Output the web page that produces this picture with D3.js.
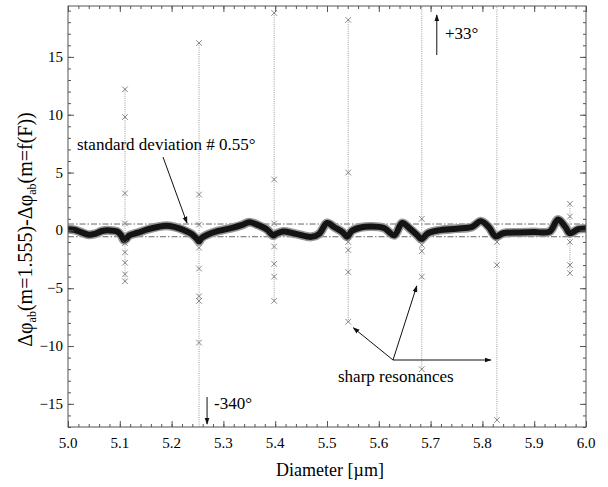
<!DOCTYPE html>
<html>
<head>
<meta charset="utf-8">
<script src="https://cdn.jsdelivr.net/npm/d3@7"></script>
<style>
  html, body { margin: 0; padding: 0; background: #fff; }
</style>
</head>
<body>
<svg id="chart" width="608" height="487"></svg>
<script>
// Phase difference between fixed-index and dispersive-index calculations vs. diameter

// Smooth background trace (diameter in µm, degrees)
const traceD = [5.000, 5.012, 5.025, 5.040, 5.052, 5.066, 5.080, 5.095, 5.103, 5.108,
                5.112, 5.118, 5.135, 5.155, 5.175, 5.190, 5.205, 5.222, 5.238, 5.248,
                5.253, 5.258, 5.270, 5.290, 5.315, 5.335, 5.350, 5.365, 5.385, 5.396,
                5.402, 5.415, 5.440, 5.470, 5.485, 5.500, 5.515, 5.530, 5.539, 5.548,
                5.565, 5.585, 5.610, 5.630, 5.645, 5.660, 5.675, 5.682, 5.695, 5.715,
                5.750, 5.780, 5.797, 5.812, 5.826, 5.840, 5.870, 5.900, 5.930, 5.946,
                5.960, 5.969, 5.985, 6.000];
const traceV = [0.10, 0.05, -0.15, -0.38, -0.30, -0.05, 0.00, -0.10, -0.45, -0.85,
                -0.75, -0.45, -0.20, 0.10, 0.32, 0.40, 0.30, 0.05, -0.30, -0.70,
                -0.95, -0.65, -0.35, -0.05, 0.20, 0.45, 0.70, 0.50, 0.05, -0.45,
                -0.30, -0.10, -0.30, -0.56, -0.30, 0.64, 0.25, -0.15, -0.55, -0.05,
                0.25, 0.33, 0.20, -0.42, 0.64, 0.15, -0.45, -0.75, -0.25, 0.00,
                0.15, 0.30, 0.80, 0.30, -0.53, -0.25, -0.18, -0.15, -0.10, 0.95,
                0.30, -0.25, 0.10, 0.16];

// Resonance positions, extent of each spike, and the scattered points on it
const resD = [5.110, 5.253, 5.398, 5.541, 5.683, 5.828, 5.969];
const resTop = [12.2, 16.2, 18.8, 18.2, 33, 25, 2.3];
const resBottom = [-4.5, -340, -6.1, -7.9, -12.0, -16.4, -3.7];
const resPoints = [
  [12.2, 9.8, 3.2, 0.6, -1.1, -1.9, -2.8, -3.8, -4.4],
  [16.2, 3.1, 0.5, -1.5, -3.3, -5.7, -6.1, -9.7],
  [18.8, 4.4, 0.6, -1.4, -2.9, -4.0, -6.1],
  [18.2, 5.0, -1.0, -1.7, -3.6, -7.9],
  [1.0, -1.25, -1.8, -4.0, -12.0],
  [-1.0, -3.0, -16.4],
  [2.3, 1.2, -1.0, -3.0, -3.7]
];

const stdDev = 0.55;
const xTicks = [5.0, 5.1, 5.2, 5.3, 5.4, 5.5, 5.6, 5.7, 5.8, 5.9, 6.0];
const yTicks = [-15, -10, -5, 0, 5, 10, 15];

const W = 608, H = 487;
const margin = { left: 68, right: 22, top: 6, bottom: 60 };
const svg = d3.select("#chart");
const FONT = "'Liberation Serif'";

const x = d3.scaleLinear().domain([5.0, 6.0]).range([margin.left, W - margin.right]);
const y = d3.scaleLinear().domain([-17, 19.4]).range([H - margin.bottom, margin.top]);
const bottomY = y.range()[0], topY = y.range()[1];
const leftX = x.range()[0], rightX = x.range()[1];

// All labels first, each with its own serif face
function label(xp, yp, size, str) {
  return svg.append("text")
    .attr("x", xp).attr("y", yp)
    .attr("font-size", size)
    .style("font-family", FONT)
    .text(str);
}

// tick labels
svg.selectAll("text.xt").data(xTicks).join("text")
  .attr("class", "xt")
  .attr("x", d => x(d)).attr("y", bottomY + 21)
  .attr("font-size", "15px").attr("text-anchor", "middle")
  .style("font-family", FONT)
  .text(d3.format(".1f"));
svg.selectAll("text.yt").data(yTicks).join("text")
  .attr("class", "yt")
  .attr("x", leftX - 5).attr("y", d => y(d) + 5)
  .attr("font-size", "15px").attr("text-anchor", "end")
  .style("font-family", FONT)
  .text(d3.format("d"));

// Axis titles
label((leftX + rightX) / 2 + 3, 476, "18px", "Diameter [µm]").attr("text-anchor", "middle");

const yl = svg.append("text")
  .attr("transform", `translate(32,${(topY + bottomY) / 2 + 13}) rotate(-90)`)
  .attr("text-anchor", "middle").attr("font-size", "20px")
  .style("font-family", FONT);
yl.append("tspan").text("Δφ");
yl.append("tspan").attr("font-size", "12px").attr("dy", 4).text("ab");
yl.append("tspan").attr("dy", -4).text("(m=1.555)-Δφ");
yl.append("tspan").attr("font-size", "12px").attr("dy", 4).text("ab");
yl.append("tspan").attr("dy", -4).text("(m=f(F))");

// Annotation texts
label(77, 150, "17px", "standard deviation # " + stdDev.toFixed(2) + "°");
label(445, 39, "17px", "+33°");
label(214, 409, "17px", "-340°");
label(338, 382, "17px", "sharp resonances");

const defs = svg.append("defs");
defs.append("clipPath").attr("id", "plotClip")
  .append("rect")
  .attr("x", leftX).attr("y", topY)
  .attr("width", rightX - leftX)
  .attr("height", bottomY - topY);
defs.append("marker").attr("id", "head")
  .attr("viewBox", "0 0 10 10").attr("refX", 9).attr("refY", 5)
  .attr("markerWidth", 7).attr("markerHeight", 7).attr("markerUnits", "userSpaceOnUse")
  .attr("orient", "auto")
  .append("path").attr("d", "M0,1.5L10,5L0,8.5Z").attr("fill", "#111");

const plot = svg.append("g").attr("clip-path", "url(#plotClip)");

// ±σ reference lines
plot.selectAll("line.sd").data([stdDev, -stdDev]).join("line")
  .attr("class", "sd")
  .attr("x1", leftX).attr("x2", rightX)
  .attr("y1", d => y(d)).attr("y2", d => y(d))
  .attr("stroke", "#555").attr("stroke-width", 0.9)
  .attr("stroke-dasharray", "6,2,1.5,2");

// Resonance spikes: dotted connectors
plot.selectAll("line.res").data(resD).join("line")
  .attr("class", "res")
  .attr("x1", d => x(d)).attr("x2", d => x(d))
  .attr("y1", (d, i) => y(resTop[i])).attr("y2", (d, i) => y(resBottom[i]))
  .attr("stroke", "#9a9a9a").attr("stroke-width", 1)
  .attr("stroke-dasharray", "1,1.2");

// Background trace: dense markers form a thick band
const line = d3.line().x((d, i) => x(traceD[i])).y(d => y(d)).curve(d3.curveCatmullRom.alpha(0.5));
plot.append("path").datum(traceV).attr("d", line)
  .attr("fill", "none").attr("stroke", "#999").attr("stroke-width", 9)
  .attr("stroke-linejoin", "round");
plot.append("path").datum(traceV).attr("d", line)
  .attr("fill", "none").attr("stroke", "#141414").attr("stroke-width", 6)
  .attr("stroke-linejoin", "round");

// Scattered points on resonances
const crossPath = "M-2.8,-2.8L2.8,2.8M-2.8,2.8L2.8,-2.8";
resD.forEach((d, i) => {
  plot.selectAll(null).data(resPoints[i]).join("path")
    .attr("d", crossPath)
    .attr("transform", v => `translate(${x(d)},${y(v)})`)
    .attr("fill", "none").attr("stroke", "#6a6a6a").attr("stroke-width", 0.8);
});

// Tick marks pointing inward on all four sides (label-free axes)
const axisColor = "#555";
function styleAxis(g) {
  g.select(".domain").remove();
  g.selectAll(".tick text").remove();
  g.selectAll(".tick line").attr("stroke", axisColor);
}
const xMinor = d3.range(0, 51).map(i => 5 + i * 0.02);
const yMinor = d3.range(-17, 20);
[[xMinor, -3], [xTicks, -6]].forEach(([vals, len]) => {
  svg.append("g").attr("transform", `translate(0,${bottomY})`)
    .call(d3.axisBottom(x).tickValues(vals).tickSize(len)).call(styleAxis);
  svg.append("g").attr("transform", `translate(0,${topY})`)
    .call(d3.axisTop(x).tickValues(vals).tickSize(len)).call(styleAxis);
});
[[yMinor, -3], [yTicks, -6]].forEach(([vals, len]) => {
  svg.append("g").attr("transform", `translate(${leftX},0)`)
    .call(d3.axisLeft(y).tickValues(vals).tickSize(len)).call(styleAxis);
  svg.append("g").attr("transform", `translate(${rightX},0)`)
    .call(d3.axisRight(y).tickValues(vals).tickSize(len)).call(styleAxis);
});

// frame
svg.append("rect")
  .attr("x", leftX).attr("y", topY)
  .attr("width", rightX - leftX).attr("height", bottomY - topY)
  .attr("fill", "none").attr("stroke", axisColor).attr("stroke-width", 1);

// Annotation arrows
function arrow(x1, y1, x2, y2) {
  svg.append("line")
    .attr("x1", x1).attr("y1", y1).attr("x2", x2).attr("y2", y2)
    .attr("stroke", "#111").attr("stroke-width", 1)
    .attr("marker-end", "url(#head)");
}
arrow(163, 157, 187, y(stdDev) - 1);
arrow(x(5.683) + 15, 55, x(5.683) + 15, 15);
arrow(x(5.253) + 8, 397, x(5.253) + 8, 424);
const hub = [393, 360];
arrow(hub[0], hub[1], x(5.541) + 5, y(-7.9) + 6);
arrow(hub[0], hub[1], x(5.683) - 5, y(-4.8));
arrow(hub[0], hub[1], x(5.828) - 6, hub[1]);
</script>
</body>
</html>
